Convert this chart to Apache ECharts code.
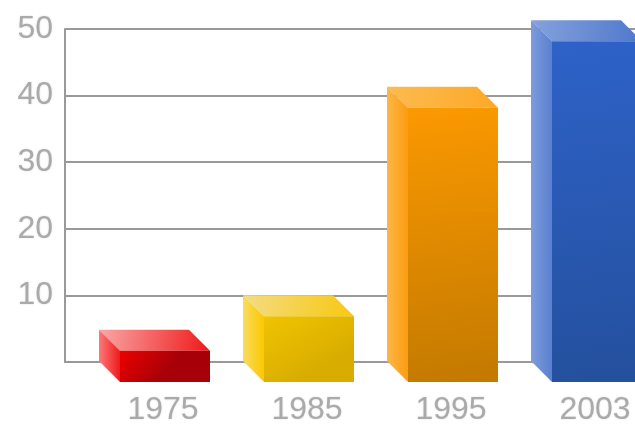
<!DOCTYPE html>
<html>
<head>
<meta charset="utf-8">
<style>html,body{margin:0;padding:0;background:#fff}#c{width:635px;height:426px}</style>
<script src="https://cdn.jsdelivr.net/npm/echarts@6/dist/echarts.min.js"></script>
</head>
<body>
<div id="c"></div>
<script>
var categories = ['1975', '1985', '1995', '2003'];
var values = [4.7, 9.9, 41.3, 51.3];
var yTicks = [10, 20, 30, 40, 50];

var palette = [
  {front:['#ee0000','#a80008'], topA:'#f9a8a8', topB:'#f01818', sideA:'#fb7a7a', sideB:'#f01a1a'},
  {front:['#f0c400','#d8ac00'], topA:'#f3dc84', topB:'#f8c810', sideA:'#f8dc60', sideB:'#fcc800'},
  {front:['#fb9900','#c47a00'], topA:'#fdbb50', topB:'#fca828', sideA:'#fdb648', sideB:'#fc9c10'},
  {front:['#2e62c8','#24509e'], topA:'#86a2dc', topB:'#4e78cc', sideA:'#7e9cdc', sideB:'#5a80d0'}
];
var DX = 21, DY = 21, HALF = 45;

function grad(x, y, x2, y2, a, b) {
  return new echarts.graphic.LinearGradient(x, y, x2, y2, [{offset:0,color:a},{offset:1,color:b}]);
}

function renderBar(params, api) {
  var i = api.value(0);
  var top = api.coord([i, api.value(1)]);
  var base = api.coord([i, 0]);
  var c = palette[i];
  var l = top[0] - HALF, r = top[0] + HALF;
  var ft = top[1] + DY, fb = base[1] + DY;
  return {
    type: 'group',
    children: [
      {type:'polygon', shape:{points:[[l-DX,top[1]],[r-DX,top[1]],[r,ft],[l,ft]]},
       style:{fill:grad(0,0,1,1,c.topA,c.topB)}},
      {type:'polygon', shape:{points:[[l-DX,top[1]],[l,ft],[l,fb],[l-DX,base[1]]]},
       style:{fill:grad(0,0,1,0,c.sideA,c.sideB)}},
      {type:'rect', shape:{x:l,y:ft,width:r-l,height:fb-ft},
       style:{fill:grad(0,0,0.4,1,c.front[0],c.front[1])}}
    ]
  };
}

var textStyle = {
  color:'#aaaaaa', fontFamily:'Liberation Sans', fontSize:32,
  textShadowColor:'rgba(150,150,150,0.3)', textShadowBlur:2
};

var chart = echarts.init(document.getElementById('c'), null, {renderer:'canvas'});
chart.setOption({
  animation:false,
  backgroundColor:'#fff',
  grid:[
    {left:65, right:0, top:29, bottom:64},
    {left:165, width:432, top:29, bottom:64}
  ],
  xAxis:[
    {gridIndex:0, type:'category', data:categories, boundaryGap:false,
     axisLine:{show:true,lineStyle:{color:'#999',width:2}},
     axisTick:{show:false}, axisLabel:{show:false}, splitLine:{show:false}},
    {gridIndex:1, type:'category', data:categories, boundaryGap:false,
     axisLine:{show:false}, axisTick:{show:false},
     axisLabel:Object.assign({margin:33, interval:0, hideOverlap:false, padding:[0,4,0,0]}, textStyle)}
  ],
  yAxis:[
    {gridIndex:0, type:'value', min:0, max:50, interval:10,
     axisLine:{show:true,lineStyle:{color:'#999',width:2}},
     axisTick:{show:false},
     splitLine:{show:true,lineStyle:{color:'#999',width:2}},
     axisLabel:Object.assign({margin:12, formatter:function(v){return yTicks.indexOf(v)>=0?String(v):'';}}, textStyle)},
    {gridIndex:1, type:'value', min:0, max:50, interval:10, show:false}
  ],
  series:[{
    type:'custom', xAxisIndex:1, yAxisIndex:1, clip:false,
    renderItem:renderBar,
    encode:{x:0,y:1},
    data:values.map(function(v,i){return [i,v];})
  }]
});
</script>
</body>
</html>
